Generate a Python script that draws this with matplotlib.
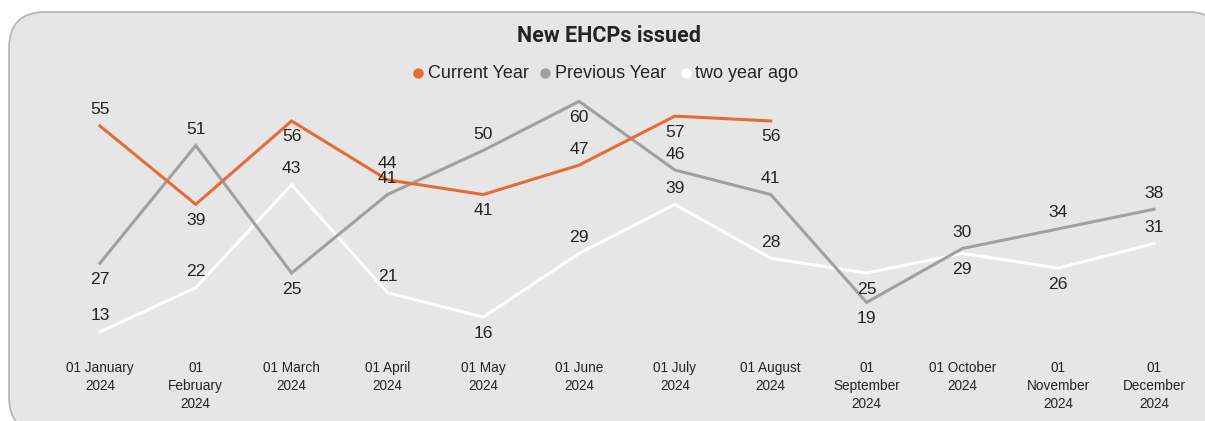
import matplotlib
matplotlib.use("Agg")
import matplotlib.pyplot as plt
from matplotlib.patches import FancyBboxPatch
from matplotlib.lines import Line2D

months = ["01 January\n2024", "01\nFebruary\n2024", "01 March\n2024", "01 April\n2024",
          "01 May\n2024", "01 June\n2024", "01 July\n2024", "01 August\n2024",
          "01\nSeptember\n2024", "01 October\n2024", "01\nNovember\n2024", "01\nDecember\n2024"]
current_year = [55, 39, 56, 44, 41, 47, 57, 56]
previous_year = [27, 51, 25, 41, 50, 60, 46, 41, 19, 30, 34, 38]
two_year_ago = [13, 22, 43, 21, 16, 29, 39, 28, 25, 29, 26, 31]

# label placement (+1 above, -1 below)
pos_current = [1, -1, -1, 1, -1, 1, -1, -1]
pos_previous = [-1, 1, -1, 1, 1, -1, 1, 1, -1, 1, 1, 1]
pos_two = [1, 1, 1, 1, -1, 1, 1, 1, -1, -1, -1, 1]

W, H = 1205, 421
fig = plt.figure(figsize=(W / 100, H / 100), dpi=100)
fig.patch.set_facecolor("white")

card = FancyBboxPatch((9 / W, -12 / H), (W + 10) / W, (H + 12 - 12) / H,
                      boxstyle="round,pad=0,rounding_size=0.03",
                      transform=fig.transFigure, facecolor="#e6e6e6",
                      edgecolor="#b4b4b4", linewidth=1.2, mutation_aspect=W / H,
                      zorder=-10)
fig.patches.append(card)

ax = fig.add_axes([52 / W, (H - 350) / H, 1150 / W, 255 / H])
ax.set_zorder(5)
ax.set_facecolor("none")
ax.patch.set_alpha(0)
for s in ax.spines.values():
    s.set_visible(False)

orange = "#E66C37"
gray = "#A0A0A0"
white = "#FFFFFF"
txt = "#252423"

xs_all = list(range(len(months)))
ax.plot(xs_all, two_year_ago, color=white, lw=2.2, solid_joinstyle="miter")
ax.plot(xs_all, previous_year, color=gray, lw=2.2, solid_joinstyle="miter")
ax.plot(list(range(len(current_year))), current_year, color=orange, lw=2.2, solid_joinstyle="miter")

off = 16 * 72 / 100
for vals, poss in [(current_year, pos_current), (previous_year, pos_previous), (two_year_ago, pos_two)]:
    for i, (v, p) in enumerate(zip(vals, poss)):
        ax.annotate(str(v), (i, v), xytext=(0, p * off), textcoords="offset points",
                    ha="center", va="center", fontsize=12.6, color=txt,
                    family="Liberation Sans")

ax.set_xlim(-0.5, 11.5)
ax.set_ylim(9.3, 61.3)
ax.set_yticks([])
ax.set_xticks(xs_all)
ax.set_xticklabels(months, fontsize=9.8, color=txt, family="Liberation Sans",
                   linespacing=1.37, va="top")
ax.tick_params(axis="x", length=0, pad=8)

fig.text(609 / W, 1 - 36 / H, "New EHCPs issued", ha="center", va="center",
         fontsize=15.5, fontweight="bold", color=txt, family="Roboto")

legend_items = [(418, 428, "Current Year", orange), (545, 555, "Previous Year", gray),
                (686, 695, "two year ago", white)]
for mx, tx, label, col in legend_items:
    fig.lines.append(Line2D([mx / W], [1 - 73 / H], marker="o", markersize=7.5,
                            color=col, markeredgewidth=0, transform=fig.transFigure))
    fig.text(tx / W, 1 - 73 / H, label, ha="left", va="center", fontsize=13,
             color=txt, family="Liberation Sans")

fig.savefig("out.png", dpi=100, facecolor="white")
